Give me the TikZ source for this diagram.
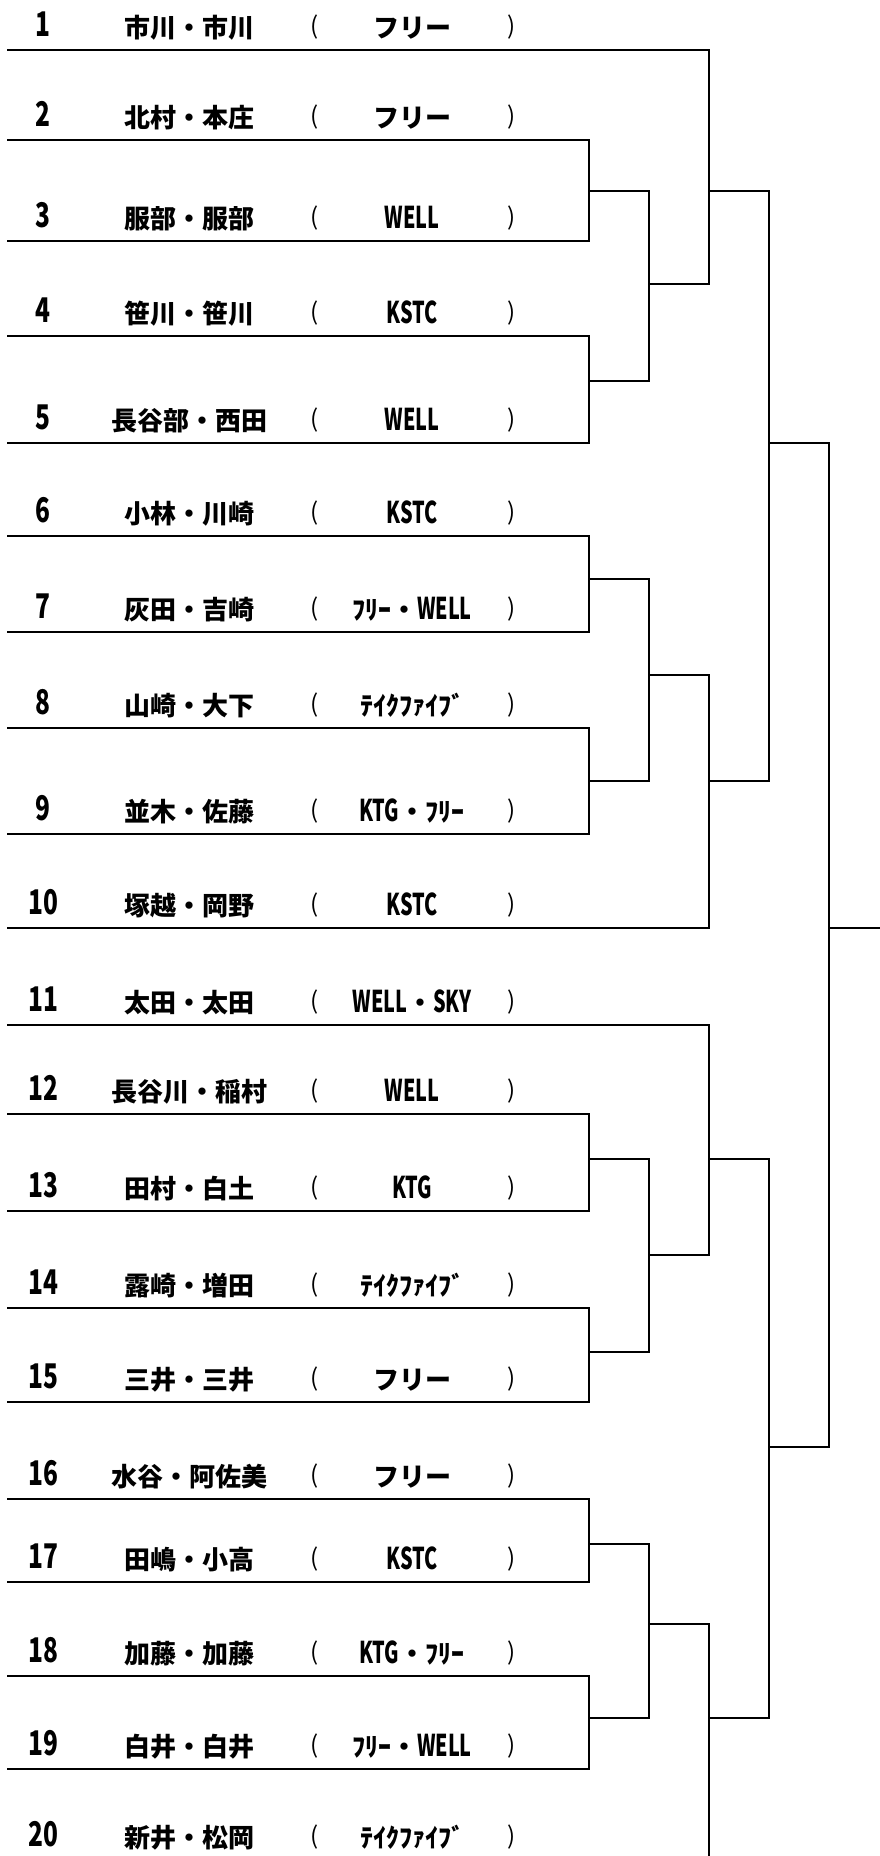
\documentclass[tikz,border=0pt]{standalone}
\usepackage{fontspec}
\newfontfamily\jp{Noto Sans CJK JP}
\newcommand\lat[1]{\scalebox{0.66}[1]{\fontsize{30pt}{30pt}\selectfont #1}}
\newcommand\dig[1]{\scalebox{0.72}[1]{\fontsize{34pt}{34pt}\selectfont #1}}
\tikzset{
  br/.style={line width=2.4pt, black, line cap=rect},
  txt/.style={anchor=base, inner sep=0pt, font=\jp\bfseries\fontsize{26pt}{26pt}\selectfont},
  paren/.style={anchor=base, inner sep=0pt, font=\jp\fontsize{24pt}{24pt}\selectfont},
}
\begin{document}
\begin{tikzpicture}[x=1pt,y=-1pt]
\useasboundingbox (0,0) rectangle (879,1856);
\fill[white] (0,0) rectangle (879,1856);
% row lines
\foreach \i/\y/\xe in {1/50/709,2/140/589,3/241/589,4/336/589,5/443/589,6/536/589,7/632/589,8/728/589,9/834/589,10/928/709,11/1025/709,12/1114/589,13/1211/589,14/1308/589,15/1402/589,16/1499/589,17/1582/589,18/1676/589,19/1769/589}{
  \coordinate (s\i) at (8,\y);
  \coordinate (e\i) at (\xe,\y);
  \draw[br] (s\i) -- (e\i);
}
% texts
\foreach \i/\y/\name/\team in {
 1/50/市川・市川/フリー,
 2/140/北村・本庄/フリー,
 3/241/服部・服部/\lat{WELL},
 4/336/笹川・笹川/\lat{KSTC},
 5/443/長谷部・西田/\lat{WELL},
 6/536/小林・川崎/\lat{KSTC},
 7/632/灰田・吉崎/ﾌﾘｰ・\lat{WELL},
 8/728/山崎・大下/ﾃｲｸﾌｧｲﾌﾞ,
 9/834/並木・佐藤/\lat{KTG}・ﾌﾘｰ,
 10/928/塚越・岡野/\lat{KSTC},
 11/1025/太田・太田/\lat{WELL}・\lat{SKY},
 12/1114/長谷川・稲村/\lat{WELL},
 13/1211/田村・白土/\lat{KTG},
 14/1308/露崎・増田/ﾃｲｸﾌｧｲﾌﾞ,
 15/1402/三井・三井/フリー,
 16/1499/水谷・阿佐美/フリー,
 17/1582/田嶋・小高/\lat{KSTC},
 18/1676/加藤・加藤/\lat{KTG}・ﾌﾘｰ,
 19/1769/白井・白井/ﾌﾘｰ・\lat{WELL},
 20/1860/新井・松岡/ﾃｲｸﾌｧｲﾌﾞ}{
  \node[txt] (num\i) at (43,\y-14) {\dig{\i}};
  \node[txt] (nm\i) at (189,\y-13) {\name};
  \node[paren] (lp\i) at (315,\y-16) {(};
  \node[txt] (tm\i) at (412,\y-13) {\team};
  \node[paren] (rp\i) at (512,\y-16) {)};
}
% --- top half connectors
\coordinate (m23) at (589,191); \coordinate (n23) at (649,191);
\coordinate (m45) at (589,381); \coordinate (n45) at (649,381);
\coordinate (c15) at (649,284); \coordinate (p1) at (709,284);
\coordinate (q1) at (709,191); \coordinate (r1) at (769,191);
\draw[br] (e2) -- (e3);
\draw[br] (e4) -- (e5);
\draw[br] (m23) -- (n23) -- (n45) -- (m45);
\draw[br] (c15) -- (p1);
\draw[br] (e1) -- (p1);
\coordinate (m67) at (589,579); \coordinate (n67) at (649,579);
\coordinate (m89) at (589,781); \coordinate (n89) at (649,781);
\coordinate (c69) at (649,675); \coordinate (p2) at (709,675);
\coordinate (q2) at (709,781); \coordinate (r2) at (769,781);
\draw[br] (e6) -- (e7);
\draw[br] (e8) -- (e9);
\draw[br] (m67) -- (n67) -- (n89) -- (m89);
\draw[br] (c69) -- (p2) -- (e10);
\draw[br] (q1) -- (r1) -- (r2) -- (q2);
\coordinate (s1) at (769,443); \coordinate (t1) at (829,443);
\coordinate (t2) at (829,1447); \coordinate (s2) at (769,1447);
\coordinate (fin) at (829,928); \coordinate (win) at (879,928);
\draw[br] (s1) -- (t1) -- (t2) -- (s2);
\draw[br] (fin) -- (win);
% --- bottom half connectors
\coordinate (m1213) at (589,1159); \coordinate (n1213) at (649,1159);
\coordinate (m1415) at (589,1352); \coordinate (n1415) at (649,1352);
\coordinate (c1215) at (649,1255); \coordinate (p3) at (709,1255);
\coordinate (q3) at (709,1159); \coordinate (r3) at (769,1159);
\coordinate (r4) at (769,1718); \coordinate (q4) at (709,1718);
\draw[br] (e12) -- (e13);
\draw[br] (e14) -- (e15);
\draw[br] (m1213) -- (n1213) -- (n1415) -- (m1415);
\draw[br] (c1215) -- (p3) -- (e11);
\draw[br] (q3) -- (r3) -- (r4) -- (q4);
\coordinate (m1617) at (589,1544); \coordinate (n1617) at (649,1544);
\coordinate (m1819) at (589,1718); \coordinate (n1819) at (649,1718);
\coordinate (c1619) at (649,1624); \coordinate (p4) at (709,1624);
\coordinate (bot) at (709,1856);
\draw[br] (e16) -- (e17);
\draw[br] (e18) -- (e19);
\draw[br] (m1617) -- (n1617) -- (n1819) -- (m1819);
\draw[br] (c1619) -- (p4) -- (bot);
\end{tikzpicture}
\end{document}
